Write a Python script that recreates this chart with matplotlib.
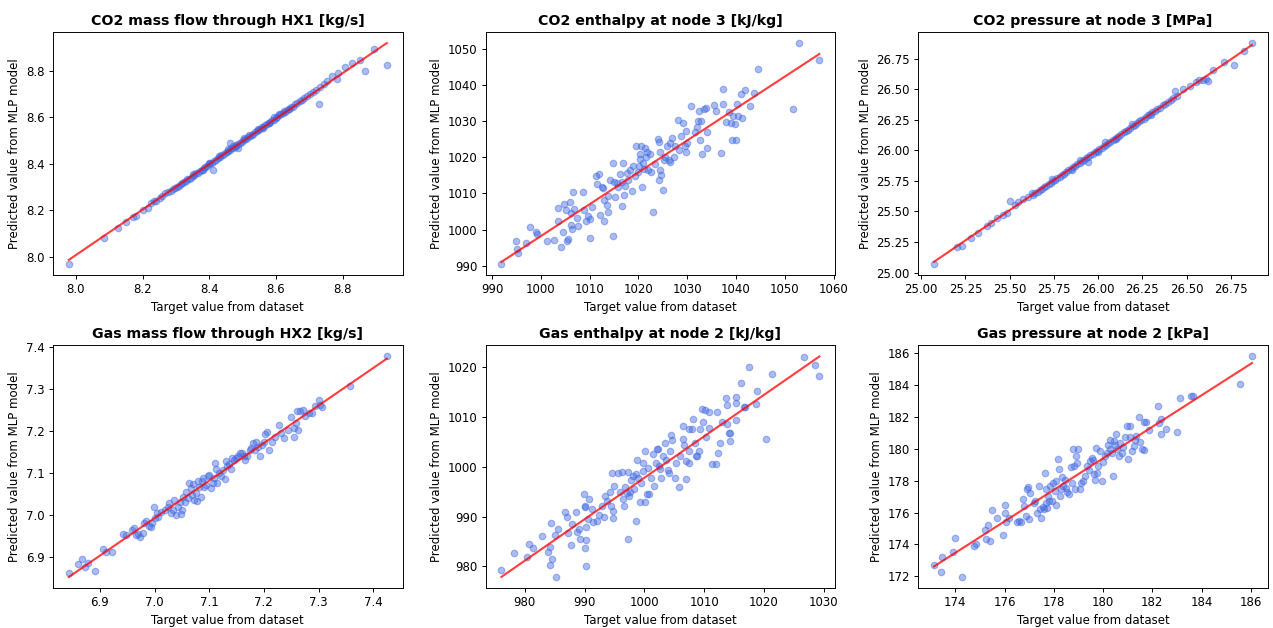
import numpy as np
import matplotlib
matplotlib.use("Agg")
import matplotlib.pyplot as plt

titles = ["CO2 mass flow through HX1 [kg/s]",
          "CO2 enthalpy at node 3 [kJ/kg]",
          "CO2 pressure at node 3 [MPa]",
          "Gas mass flow through HX2 [kg/s]",
          "Gas enthalpy at node 2 [kJ/kg]",
          "Gas pressure at node 2 [kPa]"]

# CO2 mass flow through HX1 (target, predicted)
co2_flow_x = [7.979, 8.084, 8.125, 8.149, 8.171, 8.179, 8.201, 8.216, 8.226, 8.234, 8.241,
              8.251, 8.259, 8.267, 8.276, 8.285, 8.292, 8.298, 8.303, 8.309, 8.314, 8.318,
              8.323, 8.329, 8.334, 8.338, 8.344, 8.350, 8.355, 8.361, 8.366, 8.371, 8.377,
              8.383, 8.388, 8.394, 8.398, 8.403, 8.409, 8.414, 8.420, 8.425, 8.431, 8.436,
              8.441, 8.447, 8.452, 8.456, 8.461, 8.466, 8.470, 8.476, 8.481, 8.487, 8.492,
              8.497, 8.502, 8.506, 8.511, 8.516, 8.521, 8.527, 8.532, 8.537, 8.542, 8.547,
              8.552, 8.557, 8.562, 8.568, 8.573, 8.578, 8.583, 8.589, 8.594, 8.599, 8.604,
              8.609, 8.615, 8.620, 8.626, 8.632, 8.638, 8.645, 8.651, 8.658, 8.664, 8.671,
              8.678, 8.685, 8.693, 8.702, 8.712, 8.720, 8.733, 8.350, 8.400, 8.430, 8.455,
              8.472, 8.480, 8.505, 8.520, 8.545, 8.560, 8.580, 8.595, 8.610, 8.625, 8.640,
              8.382, 8.410, 8.485, 8.463, 8.728, 8.743, 8.753, 8.768, 8.783, 8.786, 8.808,
              8.828, 8.853, 8.868, 8.893, 8.932]
co2_flow_y = [7.970, 8.081, 8.124, 8.147, 8.170, 8.176, 8.199, 8.209, 8.231, 8.238, 8.241,
              8.253, 8.260, 8.274, 8.279, 8.283, 8.290, 8.297, 8.300, 8.306, 8.313, 8.315,
              8.321, 8.326, 8.333, 8.336, 8.340, 8.349, 8.352, 8.360, 8.362, 8.370, 8.374,
              8.381, 8.387, 8.390, 8.397, 8.401, 8.405, 8.413, 8.416, 8.424, 8.428, 8.437,
              8.438, 8.444, 8.450, 8.455, 8.458, 8.466, 8.468, 8.473, 8.480, 8.484, 8.491,
              8.495, 8.500, 8.505, 8.508, 8.515, 8.518, 8.525, 8.530, 8.535, 8.539, 8.546,
              8.549, 8.556, 8.559, 8.566, 8.570, 8.577, 8.581, 8.587, 8.590, 8.598, 8.601,
              8.608, 8.612, 8.619, 8.622, 8.630, 8.634, 8.643, 8.646, 8.655, 8.660, 8.669,
              8.673, 8.683, 8.690, 8.700, 8.708, 8.718, 8.731, 8.355, 8.404, 8.433, 8.462,
              8.477, 8.476, 8.510, 8.523, 8.548, 8.555, 8.575, 8.600, 8.613, 8.628, 8.637,
              8.371, 8.373, 8.469, 8.488, 8.657, 8.744, 8.758, 8.777, 8.765, 8.791, 8.816,
              8.835, 8.845, 8.799, 8.892, 8.826]

# CO2 enthalpy at node 3
co2_h_x = [991.9, 994.8, 995.0, 995.2, 997.0, 997.8, 999.0, 999.2, 1001.2, 1002.7, 1003.5,
           1003.5, 1004.2, 1004.6, 1004.8, 1005.2, 1005.3, 1005.5, 1006.0, 1006.5, 1006.1,
           1006.3, 1006.1, 1006.8, 1007.3, 1007.5, 1008.7, 1008.9, 1009.2, 1009.7, 1010.0,
           1010.1, 1010.5, 1011.2, 1011.4, 1011.9, 1012.1, 1012.6, 1012.8, 1012.9, 1013.0,
           1013.5, 1013.7, 1013.8, 1014.1, 1014.8, 1014.8, 1014.9, 1015.2, 1015.5, 1015.8,
           1016.2, 1016.7, 1016.9, 1016.7, 1017.1, 1017.3, 1017.6, 1017.8, 1018.2, 1018.6,
           1018.9, 1019.2, 1019.5, 1019.9, 1020.1, 1020.3, 1020.4, 1020.6, 1020.7, 1021.0,
           1021.2, 1021.4, 1021.5, 1021.8, 1022.0, 1022.3, 1022.5, 1022.9, 1023.4, 1024.0,
           1024.2, 1024.3, 1024.4, 1024.5, 1024.7, 1025.0, 1025.3, 1025.5, 1025.9, 1026.3,
           1026.4, 1026.5, 1026.9, 1027.3, 1027.4, 1028.1, 1028.4, 1028.8, 1029.1, 1029.5,
           1029.7, 1029.8, 1030.0, 1030.7, 1031.5, 1032.0, 1032.3, 1032.5, 1032.7, 1032.9,
           1033.1, 1033.5, 1033.9, 1034.1, 1034.0, 1035.5, 1035.9, 1036.9, 1037.3, 1037.4,
           1038.0, 1038.5, 1039.0, 1039.2, 1039.3, 1039.7, 1039.9, 1040.1, 1040.5, 1041.0,
           1041.2, 1041.9, 1042.9, 1043.7, 1044.5, 1051.7, 1052.9, 1057.1]
co2_h_y = [990.6, 996.8, 994.5, 993.5, 996.4, 1000.7, 999.4, 998.8, 996.8, 997.0, 1005.9,
           1002.5, 995.3, 999.2, 1007.1, 1005.3, 996.8, 997.5, 1007.6, 1010.5, 1004.6,
           1000.1, 1001.2, 1005.8, 1003.1, 1001.0, 1010.3, 1005.3, 1002.5, 1003.8, 997.6,
           1002.9, 1006.2, 1014.7, 1012.7, 1015.3, 1004.1, 1011.9, 1011.4, 1008.2, 1002.3,
           1006.9, 1005.0, 1009.4, 1013.7, 1018.4, 998.3, 1013.3, 1009.0, 1012.9, 1011.9,
           1015.3, 1006.6, 1018.4, 1013.3, 1009.6, 1012.1, 1015.6, 1013.8, 1016.5, 1010.6,
           1017.5, 1014.7, 1023.0, 1016.0, 1017.7, 1019.5, 1021.0, 1023.0, 1011.9, 1018.4,
           1016.8, 1022.5, 1020.2, 1021.6, 1016.5, 1020.9, 1016.0, 1005.0, 1018.1, 1025.0,
           1024.1, 1013.8, 1016.5, 1021.6, 1015.2, 1011.0, 1019.3, 1020.2, 1023.0, 1019.3,
           1023.9, 1018.8, 1025.3, 1020.2, 1023.0, 1030.2, 1022.1, 1025.8, 1029.4, 1023.0,
           1027.3, 1021.6, 1023.9, 1034.1, 1026.9, 1028.5, 1030.1, 1032.9, 1024.7, 1030.0,
           1021.0, 1033.3, 1033.6, 1026.9, 1022.5, 1034.4, 1032.9, 1021.3, 1038.9, 1034.8,
           1029.8, 1032.4, 1029.4, 1024.8, 1031.3, 1029.2, 1024.9, 1034.8, 1031.5, 1037.4,
           1031.0, 1038.7, 1034.1, 1037.9, 1044.4, 1033.3, 1051.6, 1046.9]

# CO2 pressure at node 3
co2_p_x = [25.073, 25.201, 25.229, 25.280, 25.323, 25.370, 25.393, 25.427, 25.464, 25.483,
           25.502, 25.530, 25.549, 25.577, 25.605, 25.624, 25.632, 25.645, 25.658, 25.670,
           25.682, 25.695, 25.707, 25.720, 25.733, 25.745, 25.757, 25.770, 25.782, 25.795,
           25.807, 25.820, 25.832, 25.845, 25.857, 25.870, 25.882, 25.895, 25.907, 25.920,
           25.932, 25.945, 25.957, 25.970, 25.982, 25.995, 26.007, 26.020, 26.032, 26.045,
           26.057, 26.070, 26.082, 26.095, 26.107, 26.120, 26.132, 26.145, 26.157, 26.170,
           26.182, 26.195, 26.207, 26.220, 26.232, 26.245, 26.257, 26.270, 26.282, 26.295,
           26.307, 26.320, 26.335, 26.350, 26.365, 26.380, 26.395, 26.410, 26.425, 26.445,
           25.740, 26.040, 26.190, 26.000, 25.900, 26.300, 25.850, 26.100, 25.944, 26.432,
           26.479, 26.517, 26.551, 26.573, 26.592, 26.611, 26.624, 26.648, 26.714, 26.767,
           26.823, 26.870]
co2_p_y = [25.074, 25.210, 25.216, 25.287, 25.320, 25.385, 25.402, 25.443, 25.470, 25.484,
           25.585, 25.552, 25.579, 25.598, 25.620, 25.648, 25.637, 25.649, 25.660, 25.675,
           25.684, 25.697, 25.712, 25.722, 25.735, 25.750, 25.758, 25.776, 25.783, 25.797,
           25.810, 25.822, 25.836, 25.846, 25.861, 25.872, 25.887, 25.895, 25.911, 25.921,
           25.936, 25.946, 25.960, 25.972, 25.985, 25.995, 26.012, 26.022, 26.036, 26.045,
           26.062, 26.070, 26.086, 26.096, 26.111, 26.120, 26.136, 26.146, 26.160, 26.170,
           26.186, 26.196, 26.210, 26.220, 26.236, 26.245, 26.260, 26.270, 26.286, 26.295,
           26.310, 26.320, 26.338, 26.350, 26.368, 26.380, 26.398, 26.412, 26.426, 26.447,
           25.765, 26.065, 26.215, 25.990, 25.920, 26.290, 25.840, 26.090, 25.907, 26.489,
           26.500, 26.522, 26.555, 26.571, 26.576, 26.582, 26.568, 26.653, 26.721, 26.697,
           26.809, 26.877]

# Gas mass flow through HX2
gas_flow_x = [6.843, 6.860, 6.867, 6.872, 6.878, 6.891, 6.906, 6.911, 6.922, 6.943, 6.947,
              6.959, 6.962, 6.966, 6.970, 6.974, 6.978, 6.981, 6.985, 6.989, 6.993, 6.996,
              6.998, 7.001, 7.004, 7.007, 7.012, 7.019, 7.024, 7.027, 7.030, 7.033, 7.036,
              7.039, 7.042, 7.046, 7.048, 7.051, 7.052, 7.056, 7.058, 7.062, 7.063, 7.066,
              7.068, 7.070, 7.072, 7.075, 7.077, 7.079, 7.081, 7.084, 7.086, 7.089, 7.091,
              7.094, 7.097, 7.100, 7.103, 7.106, 7.109, 7.111, 7.112, 7.115, 7.118, 7.121,
              7.125, 7.129, 7.130, 7.133, 7.136, 7.139, 7.142, 7.145, 7.149, 7.153, 7.157,
              7.160, 7.163, 7.166, 7.169, 7.174, 7.177, 7.180, 7.183, 7.186, 7.190, 7.193,
              7.197, 7.200, 7.202, 7.205, 7.209, 7.215, 7.220, 7.227, 7.232, 7.236, 7.245,
              7.250, 7.255, 7.256, 7.259, 7.262, 7.261, 7.267, 7.271, 7.276, 7.282, 7.288,
              7.294, 7.301, 7.303, 7.306, 7.358, 7.425]
gas_flow_y = [6.860, 6.882, 6.895, 6.876, 6.885, 6.866, 6.919, 6.911, 6.911, 6.955, 6.951,
              6.963, 6.967, 6.951, 6.954, 6.947, 6.957, 6.979, 6.985, 6.973, 6.971, 6.979,
              7.018, 6.991, 7.003, 6.995, 7.007, 7.011, 7.019, 7.027, 7.003, 7.011, 7.035,
              6.999, 7.019, 7.031, 7.002, 7.011, 7.043, 7.031, 7.055, 7.039, 7.075, 7.063,
              7.047, 7.073, 7.035, 7.051, 7.033, 7.081, 7.067, 7.043, 7.079, 7.087, 7.067,
              7.071, 7.091, 7.095, 7.063, 7.075, 7.087, 7.123, 7.108, 7.075, 7.099, 7.091,
              7.107, 7.084, 7.127, 7.115, 7.121, 7.108, 7.135, 7.131, 7.135, 7.139, 7.147,
              7.148, 7.139, 7.131, 7.140, 7.154, 7.158, 7.170, 7.154, 7.174, 7.161, 7.139,
              7.167, 7.174, 7.193, 7.196, 7.154, 7.174, 7.186, 7.213, 7.194, 7.182, 7.202,
              7.232, 7.186, 7.206, 7.218, 7.202, 7.246, 7.246, 7.250, 7.234, 7.242, 7.242,
              7.258, 7.274, 7.262, 7.256, 7.306, 7.377]

# Gas enthalpy at node 2
gas_h_x = [976.1, 978.2, 980.3, 980.7, 981.3, 982.9, 983.9, 984.2, 984.2, 984.4, 984.6,
           985.1, 985.2, 985.5, 986.8, 987.1, 987.3, 987.8, 987.9, 988.5, 988.7, 989.1,
           989.3, 989.9, 990.0, 990.1, 990.0, 990.2, 990.3, 990.3, 990.6, 990.7, 991.2,
           991.5, 992.1, 992.5, 993.0, 993.2, 993.4, 993.7, 994.2, 994.5, 994.7, 994.7,
           994.6, 994.9, 995.6, 995.9, 996.3, 996.4, 996.6, 996.7, 997.1, 997.2, 997.3,
           997.5, 997.6, 997.7, 998.1, 998.2, 998.6, 998.6, 998.8, 998.9, 999.2, 999.4,
           999.7, 999.8, 1000.2, 1000.2, 1000.4, 1000.7, 1000.8, 1001.2, 1001.4, 1001.6,
           1001.9, 1002.1, 1002.3, 1002.4, 1002.6, 1002.8, 1003.1, 1003.4, 1003.7, 1003.9,
           1004.2, 1004.3, 1004.5, 1004.7, 1005.1, 1005.3, 1005.8, 1005.9, 1006.4, 1006.5,
           1006.7, 1006.9, 1007.0, 1007.5, 1007.5, 1007.5, 1008.0, 1008.2, 1008.5, 1008.7,
           1008.9, 1009.1, 1009.4, 1009.6, 1009.9, 1010.2, 1010.3, 1010.8, 1010.9, 1011.4,
           1012.0, 1012.1, 1012.3, 1012.7, 1013.0, 1013.6, 1013.8, 1013.9, 1014.2, 1014.4,
           1014.4, 1015.3, 1015.4, 1015.4, 1016.1, 1016.7, 1016.8, 1017.6, 1018.7, 1018.9,
           1020.3, 1021.3, 1026.8, 1028.6, 1029.3]
gas_h_y = [979.2, 982.8, 982.0, 984.6, 983.7, 986.1, 982.9, 984.0, 980.3, 988.7, 981.6,
           986.3, 977.9, 987.5, 990.9, 990.0, 986.7, 984.4, 988.5, 990.9, 986.9, 987.6,
           985.5, 994.5, 992.1, 992.0, 983.7, 985.3, 980.1, 988.0, 989.6, 993.6, 991.5,
           988.9, 989.1, 990.3, 992.1, 990.0, 994.1, 993.1, 994.9, 992.1, 989.7, 991.2,
           998.7, 996.1, 998.7, 994.9, 998.9, 993.5, 992.1, 996.0, 994.8, 998.9, 985.5,
           994.1, 994.9, 997.3, 998.1, 995.5, 998.6, 989.1, 1001.3, 997.8, 992.9, 996.8,
           1000.8, 999.1, 992.9, 1003.1, 994.5, 999.8, 994.5, 997.8, 1002.5, 996.1,
           1000.8, 1003.5, 1003.6, 1000.1, 999.6, 997.7, 1002.1, 1004.7, 1001.3, 999.3,
           998.8, 1003.1, 1006.3, 1005.3, 997.8, 1000.8, 995.9, 1002.1, 1008.1, 1005.5,
           1004.4, 997.6, 1001.1, 1007.5, 1000.7, 1003.1, 1007.5, 1009.5, 1004.8, 1002.1,
           1002.1, 1003.1, 1007.6, 1011.6, 1008.9, 1011.3, 1006.0, 1007.7, 1010.9, 1000.5,
           1000.5, 1010.9, 1002.8, 1004.8, 1008.9, 1013.8, 1012.3, 1008.5, 1006.7, 1006.7,
           1005.1, 1009.3, 1013.9, 1012.8, 1016.8, 1012.0, 1012.0, 1020.0, 1012.5, 1015.1,
           1005.6, 1018.5, 1021.9, 1020.3, 1018.1]

# Gas pressure at node 2
gas_p_x = [173.14, 173.42, 173.45, 173.92, 173.99, 174.26, 174.77, 174.84, 175.20, 175.24,
           175.34, 175.41, 175.49, 175.70, 175.95, 176.01, 176.03, 176.08, 176.19, 176.49,
           176.59, 176.68, 176.76, 176.80, 176.89, 176.92, 176.97, 176.99, 177.05, 177.19,
           177.24, 177.30, 177.41, 177.43, 177.49, 177.57, 177.59, 177.65, 177.68, 177.70,
           177.73, 177.78, 177.81, 177.86, 177.92, 177.97, 178.04, 178.08, 178.11, 178.18,
           178.22, 178.24, 178.28, 178.35, 178.38, 178.45, 178.49, 178.54, 178.62, 178.68,
           178.73, 178.78, 178.84, 178.86, 178.92, 178.95, 179.00, 179.05, 179.12, 179.19,
           179.27, 179.35, 179.43, 179.49, 179.54, 179.59, 179.65, 179.68, 179.70, 179.76,
           179.81, 179.86, 179.97, 180.00, 180.08, 180.16, 180.22, 180.27, 180.30, 180.38,
           180.41, 180.46, 180.49, 180.54, 180.57, 180.65, 180.70, 180.76, 180.81, 180.89,
           180.97, 181.03, 181.08, 181.11, 181.19, 181.24, 181.30, 181.35, 181.46, 181.51,
           181.59, 181.65, 181.68, 181.76, 181.86, 182.23, 182.27, 182.36, 182.35, 182.57,
           183.01, 183.11, 183.58, 183.65, 185.57, 186.05]
gas_p_y = [172.73, 172.25, 173.23, 173.54, 174.38, 171.96, 173.88, 174.02, 174.92, 174.33,
           175.25, 174.21, 176.17, 175.63, 174.58, 176.46, 175.96, 175.38, 175.63, 175.38,
           175.46, 175.38, 176.88, 176.42, 175.79, 177.50, 177.58, 175.58, 177.21, 176.63,
           176.71, 175.96, 177.67, 176.25, 175.63, 176.33, 176.21, 178.46, 177.46, 176.63,
           176.29, 177.04, 176.73, 177.67, 176.73, 177.83, 177.35, 177.98, 176.46, 179.33,
           178.71, 177.04, 177.50, 178.21, 177.67, 178.04, 177.56, 177.29, 177.15, 178.88,
           177.88, 179.96, 178.92, 177.46, 179.54, 179.13, 179.96, 177.46, 177.88, 177.98,
           178.29, 178.92, 178.67, 179.23, 179.42, 179.29, 178.40, 178.04, 180.06, 178.50,
           178.92, 179.85, 177.98, 179.17, 179.54, 179.75, 180.21, 180.00, 180.58, 179.75,
           178.29, 180.48, 180.21, 180.90, 179.96, 179.54, 180.38, 179.75, 180.13, 180.75,
           181.42, 179.38, 180.75, 181.42, 179.83, 180.17, 180.54, 180.79, 182.00, 180.44,
           179.96, 181.67, 179.92, 181.67, 181.17, 182.67, 181.63, 180.90, 181.88, 181.21,
           181.04, 183.19, 183.33, 183.29, 184.08, 185.79]

targets = [co2_flow_x, co2_h_x, co2_p_x, gas_flow_x, gas_h_x, gas_p_x]
preds = [co2_flow_y, co2_h_y, co2_p_y, gas_flow_y, gas_h_y, gas_p_y]

fig, axes = plt.subplots(2, 3, figsize=(1273 / 85, 628 / 85), dpi=85)
fig.subplots_adjust(left=0.0416, right=0.996, top=0.949, bottom=0.0637,
                    wspace=0.237, hspace=0.292)

for ax, t, xs, ys in zip(axes.flat, titles, targets, preds):
    xs = np.array(xs)
    ys = np.array(ys)
    ax.scatter(xs, ys, s=30, color='royalblue', alpha=0.45)
    # linear fit between target and prediction
    m, b = np.polyfit(xs, ys, 1)
    xl = np.array([xs.min(), xs.max()])
    ax.plot(xl, m * xl + b, color='red', alpha=0.75, linewidth=1.8)
    ax.set_title(t, fontweight='bold')
    ax.set_xlabel('Target value from dataset')
    ax.set_ylabel('Predicted value from MLP model')

fig.savefig('out.png', dpi=85)
